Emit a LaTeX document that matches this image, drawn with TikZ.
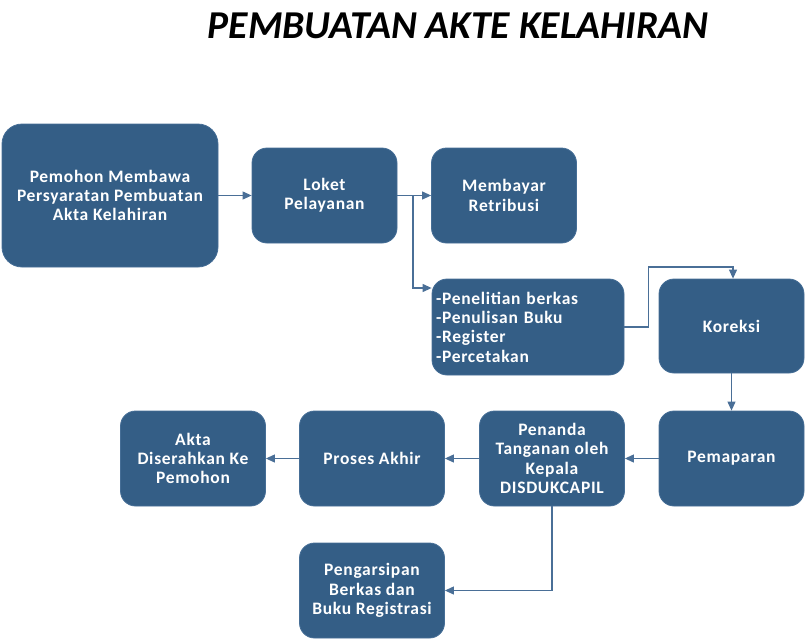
\documentclass[tikz,border=0pt]{standalone}
\usepackage{fontspec}
\setmainfont{Carlito}
\newfontfamily\boxfont[LetterSpace=4]{Carlito}
\usetikzlibrary{arrows.meta}
\definecolor{boxblue}{RGB}{52,94,134}
\definecolor{boxedge}{RGB}{70,110,150}
\definecolor{linkblue}{RGB}{74,111,151}
\tikzset{
  stepbox/.style={draw=boxedge, line width=0.8pt, fill=boxblue, rounded corners=15pt,
    text=white, font=\boxfont\bfseries\fontsize{17.5}{19.3}\selectfont, align=center,
    minimum width=145pt, minimum height=95pt, inner sep=0pt},
  link/.style={draw=linkblue, line width=1.1pt, -{Triangle[length=9pt,width=8pt]}},
  plain/.style={draw=linkblue, line width=1.1pt}
}
\begin{document}
\begin{tikzpicture}[x=1pt,y=-1pt]
\useasboundingbox (0,0) rectangle (805,640);
\node[font=\bfseries\itshape\fontsize{39.5}{44}\selectfont, anchor=base] (title) at (458,38) {PEMBUATAN AKTE KELAHIRAN};
\node[stepbox, minimum width=216pt, minimum height=143pt, rounded corners=20pt] (a) at (110,195.5) {Pemohon Membawa\\Persyaratan Pembuatan\\Akta Kelahiran};
\node[stepbox] (b) at (324.5,195.5) {Loket\\Pelayanan};
\node[stepbox] (c) at (504,195.5) {Membayar\\Retribusi};
\node[stepbox, minimum width=192pt, minimum height=96pt, text width=184pt, inner xsep=4pt, align=left] (d) at (528,327) {-Penelitian berkas\\-Penulisan Buku\\-Register\\-Percetakan};
\node[stepbox, minimum height=94pt] (e) at (731.5,326) {Koreksi};
\node[stepbox] (f) at (731.5,458.5) {Pemaparan};
\node[stepbox] (g) at (552,458.5) {Penanda\\Tanganan oleh\\Kepala\\DISDUKCAPIL};
\node[stepbox] (h) at (372,458.5) {Proses Akhir};
\node[stepbox] (i) at (193,458.5) {Akta\\Diserahkan Ke\\Pemohon};
\node[stepbox] (j) at (372,590.5) {Pengarsipan\\Berkas dan\\Buku Registrasi};
\coordinate (bsplit) at (413,195.5);
\draw[link] (a.east) -- (b.west);
\draw[link] (b.east) -- (c.west);
\draw[link] (bsplit) |- ([yshift=39pt]d.west);
\draw[link] (d.east) -- ++(24,0) |- (733,267) -- (e.north -| 733,0);
\draw[link] (e.south) -- (f.north);
\draw[link] (f.west) -- (g.east);
\draw[link] (g.west) -- (h.east);
\draw[link] (h.west) -- (i.east);
\draw[link] (g.south) |- (j.east);
\end{tikzpicture}
\end{document}
